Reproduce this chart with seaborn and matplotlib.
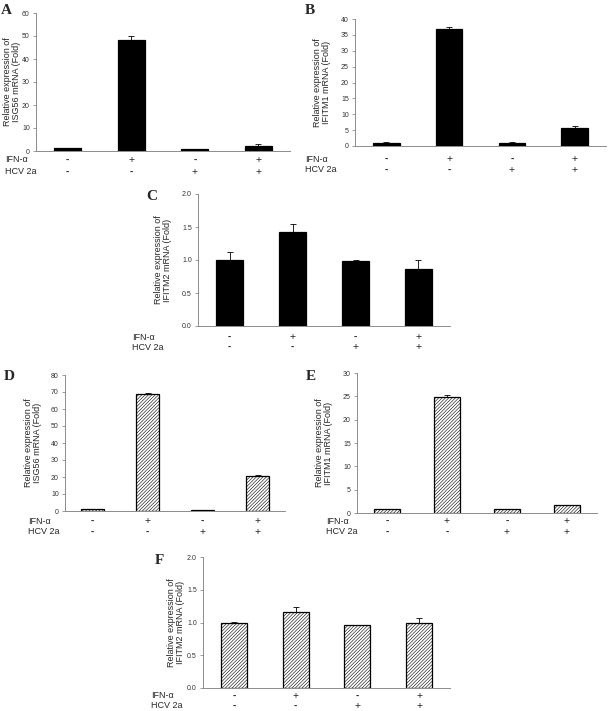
import numpy as np
import pandas as pd
import matplotlib as mpl
import matplotlib.pyplot as plt
import seaborn as sns

mpl.use("Agg")

# treatment rows shown under every panel
IFN = ["-", "+", "-", "+"]
HCV = ["-", "-", "+", "+"]

# panel values (fold) and upward error bars
A_VALS = [1.2, 48.3, 0.9, 2.1]
A_ERR = [0.1, 1.5, 0.1, 0.9]
B_VALS = [0.9, 37.0, 1.1, 5.7]
B_ERR = [0.25, 0.5, 0.05, 0.6]
C_VALS = [1.0, 1.42, 0.99, 0.86]
C_ERR = [0.12, 0.13, 0.01, 0.14]
D_VALS = [1.0, 68.8, 0.3, 20.8]
D_ERR = [0.1, 0.8, 0.05, 0.3]
E_VALS = [0.85, 24.8, 0.85, 1.7]
E_ERR = [0.1, 0.4, 0.05, 0.05]
F_VALS = [1.0, 1.16, 0.955, 1.0]
F_ERR = [0.005, 0.07, 0.003, 0.07]

GENES = {"A": "ISG56", "B": "IFITM1", "C": "IFITM2",
         "D": "ISG56", "E": "IFITM1", "F": "IFITM2"}

W, H = 608, 711
GRAY = "#8c8c8c"

sns.set_style("white")
plt.rcParams["font.family"] = ["Liberation Sans", "DejaVu Sans"]
plt.rcParams["hatch.linewidth"] = 0.4

fig = plt.figure(figsize=(W / 100, H / 100), dpi=100)

# layout in pixels: left, right, top, bottom, ylabel x, row label x, row y's, letter x,y
PANELS = [
    dict(key="A", vals=A_VALS, err=A_ERR, ymax=60, step=10, fmt="%d", hatch=False,
         box=(36, 290, 13, 151), ylab_x=12, row_x=5, rows=(160, 172), letter=(1, 10)),
    dict(key="B", vals=B_VALS, err=B_ERR, ymax=40, step=5, fmt="%d", hatch=False,
         box=(355, 606, 19, 146), ylab_x=322, row_x=305, rows=(159, 170), letter=(305, 10)),
    dict(key="C", vals=C_VALS, err=C_ERR, ymax=2.0, step=0.5, fmt="%.1f", hatch=False,
         box=(198, 450, 194, 326), ylab_x=163, row_x=132, rows=(337, 347), letter=(146, 197)),
    dict(key="D", vals=D_VALS, err=D_ERR, ymax=80, step=10, fmt="%d", hatch=True,
         box=(65, 285, 375, 511), ylab_x=33, row_x=28, rows=(521, 532), letter=(4, 376)),
    dict(key="E", vals=E_VALS, err=E_ERR, ymax=30, step=5, fmt="%d", hatch=True,
         box=(357, 597, 373, 513), ylab_x=324, row_x=326, rows=(521, 532), letter=(306, 377)),
    dict(key="F", vals=F_VALS, err=F_ERR, ymax=2.0, step=0.5, fmt="%.1f", hatch=True,
         box=(203, 450, 557, 688), ylab_x=176, row_x=151, rows=(696, 706), letter=(155, 561)),
]

for p in PANELS:
    l, r, t, b = p["box"]
    ax = fig.add_axes([l / W, 1 - b / H, (r - l) / W, (b - t) / H])
    df = pd.DataFrame({"cond": range(4), "val": p["vals"]})
    sns.barplot(data=df, x="cond", y="val", color="black", width=0.42,
                saturation=1, edgecolor="black", linewidth=0.9, ax=ax)
    if p["hatch"]:
        for bar in ax.patches:
            bar.set_facecolor("white")
            bar.set_hatch("//////////")
    err = np.array(p["err"])
    ax.errorbar(range(4), p["vals"], yerr=[np.zeros(4), err], fmt="none",
                ecolor="black", elinewidth=0.6, capsize=2, capthick=0.6)

    ax.set_xlim(-0.5, 3.5)
    ax.set_ylim(0, p["ymax"])
    ax.set_yticks(np.arange(0, p["ymax"] + p["step"] / 2, p["step"]))
    ax.yaxis.set_major_formatter(mpl.ticker.FormatStrFormatter(p["fmt"]))
    ax.set_xticks([])
    ax.set_xticks([0.5, 1.5, 2.5, 3.5], minor=True)
    ax.tick_params(axis="x", which="minor", length=2.5, width=0.6, color=GRAY, direction="out")
    ax.tick_params(axis="y", length=2.5, width=0.6, color=GRAY, labelsize=5,
                   labelcolor="#333333", pad=2, left=True)
    ax.set_xlabel("")
    for side in ["top", "right"]:
        ax.spines[side].set_visible(False)
    for side in ["left", "bottom"]:
        ax.spines[side].set_color(GRAY)
        ax.spines[side].set_linewidth(0.7)

    ax.set_ylabel("Relative expression of\n%s mRNA (Fold)" % GENES[p["key"]],
                  fontsize=6.5, va="center", linespacing=1.1)
    ax.yaxis.set_label_coords((p["ylab_x"] - l) / (r - l), 0.5)

    # +/- rows under the bars
    for labels, name, y in [(IFN, "IFN-\u03b1", p["rows"][0]), (HCV, "HCV 2a", p["rows"][1])]:
        fig.text(p["row_x"] / W, 1 - y / H, name, fontsize=6.5, ha="left", va="center")
        for i, s in enumerate(labels):
            xf = ax.transData.transform((i, 0))[0] / W
            fig.text(xf, 1 - y / H, s, fontsize=7.5 if s == "+" else 7,
                     fontweight="bold" if s == "-" else "normal",
                     ha="center", va="center")

    lx, ly = p["letter"]
    fig.text(lx / W, 1 - ly / H, p["key"], fontsize=11, fontweight="bold",
             family="Liberation Serif", ha="left", va="center")

fig.savefig("out.png", dpi=100)
